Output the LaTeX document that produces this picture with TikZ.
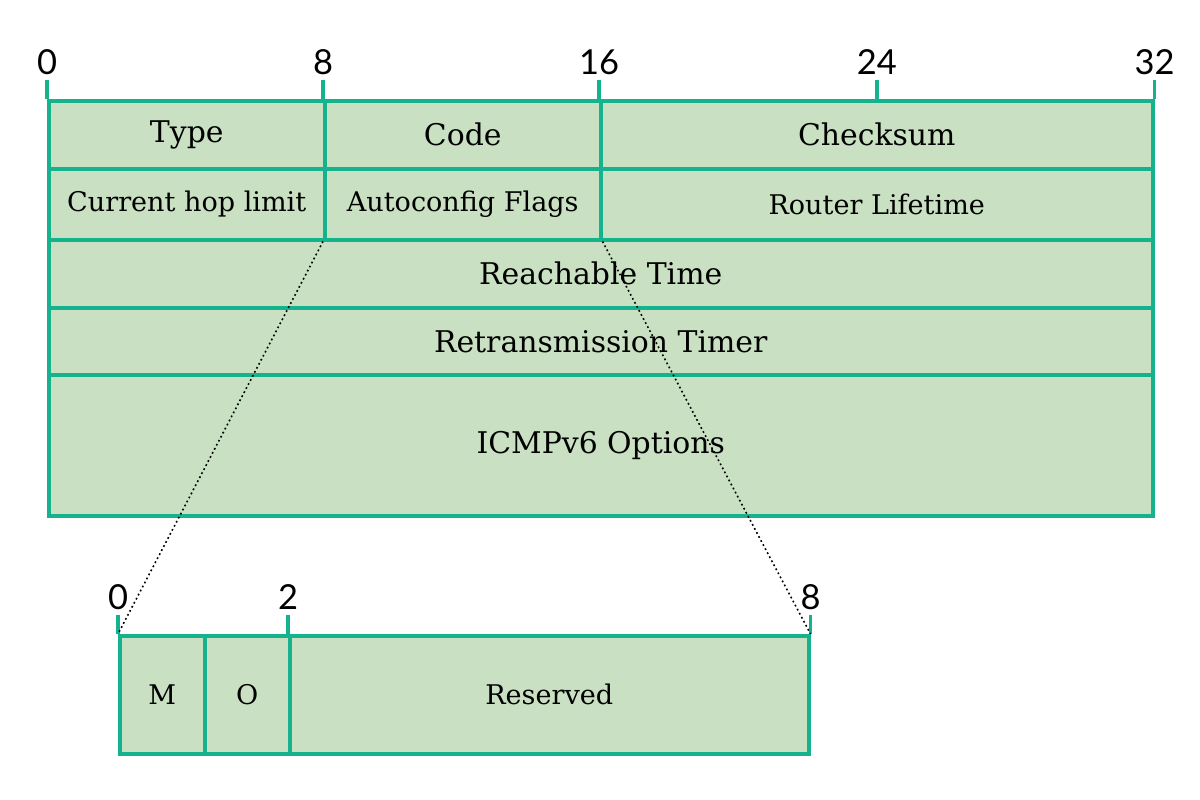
\documentclass[tikz,border=0pt]{standalone}
\usepackage{fontspec}
\setmainfont{DejaVu Serif}
\newfontfamily\numfont{Lato}
\usepackage{xcolor}
\usepackage{tikz}
\usetikzlibrary{positioning,calc}
\definecolor{fieldline}{HTML}{14B38E}
\definecolor{fieldfill}{HTML}{C9E0C2}

\begin{document}
\begin{tikzpicture}[
    field/.style={rectangle, draw=fieldline, fill=fieldfill, line width=1pt, inner sep=0pt, anchor=north west, minimum height=#1, font=\fontsize{8.5}{10}\selectfont},
    field/.default=0.68cm,
    smallfield/.style={field=#1, font=\fontsize{7.7}{9}\selectfont},
    smallfield/.default=0.71cm,
    tick/.style={draw=fieldline, line width=1pt},
    bitnum/.style={above, inner sep=1pt, font=\numfont\fontsize{9.8}{11}\selectfont},
    zoomline/.style={dash pattern=on 0.5pt off 0.8pt, line width=0.45pt, black}
]
    \useasboundingbox (0,0) rectangle (12,-8);

    % header, 32 bits wide
    \node[field, minimum width=2.76cm] (type) at (0.47,-0.99) {Type};
    \node[field, minimum width=2.76cm] (code) at (3.23,-0.99) {Code};
    \node[field, minimum width=5.52cm] (chk) at (5.99,-0.99) {Checksum};

    \node[smallfield, minimum width=2.76cm] (hop) at (0.47,-1.67) {Current hop limit};
    \node[smallfield, minimum width=2.76cm] (flags) at (3.23,-1.67) {Autoconfig Flags};
    \node[smallfield, minimum width=5.52cm] (life) at (5.99,-1.67) {Router Lifetime};

    \node[field, minimum width=11.04cm] (reach) at (0.47,-2.38) {Reachable Time};
    \node[field=0.67cm, minimum width=11.04cm] (retrans) at (0.47,-3.06) {Retransmission Timer};
    \node[field=1.41cm, minimum width=11.04cm] (opts) at (0.47,-3.73) {ICMPv6 Options};

    \draw[tick] (type.north west) -- ++(0,0.19) node[bitnum] (b0) {0};
    \draw[tick] (code.north west) -- ++(0,0.19) node[bitnum] (b8) {8};
    \draw[tick] (chk.north west) -- ++(0,0.19) node[bitnum] (b16) {16};
    \draw[tick] (chk.north) -- ++(0,0.19) node[bitnum] (b24) {24};
    \draw[tick] (chk.north east) -- ++(0,0.19) node[bitnum] (b32) {32};

    % autoconfig flags, 8 bits wide
    \node[smallfield=1.18cm, minimum width=0.85cm] (m) at (1.18,-6.34) {M};
    \node[smallfield=1.18cm, minimum width=0.85cm] (o) at (2.03,-6.34) {O};
    \node[smallfield=1.18cm, minimum width=5.19cm] (res) at (2.88,-6.34) {Reserved};

    \draw[tick] (m.north west) -- ++(0,0.19) node[bitnum] (f0) {0};
    \draw[tick] (res.north west) -- ++(0,0.19) node[bitnum] (f2) {2};
    \draw[tick] (res.north east) -- ++(0,0.19) node[bitnum] (f8) {8};

    \draw[zoomline] (flags.south west) -- (m.north west);
    \draw[zoomline] (flags.south east) -- (res.north east);
\end{tikzpicture}
\end{document}
